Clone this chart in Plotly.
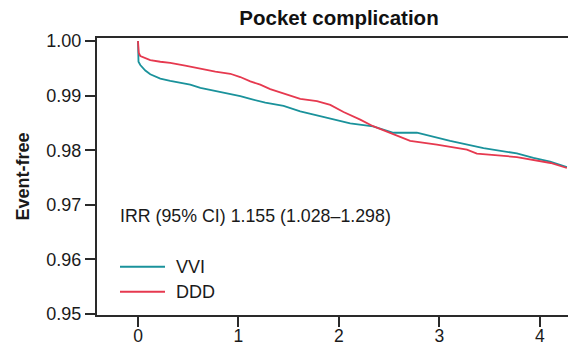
import plotly.graph_objects as go

# Kaplan-Meier style event-free curves (years vs proportion event-free)
vvi_t = [0.0, 0.001, 0.005, 0.023, 0.073, 0.122, 0.222, 0.321, 0.421, 0.520, 0.621, 0.819,
         1.018, 1.118, 1.267, 1.449, 1.615, 1.781, 1.963, 2.112, 2.340, 2.543, 2.776,
         3.107, 3.439, 3.771, 3.936, 4.102, 4.269]
vvi_s = [1.000, 0.9970, 0.9962, 0.9956, 0.9946, 0.9939, 0.9931, 0.9927, 0.9924, 0.9920, 0.9914, 0.9907,
         0.9899, 0.9894, 0.9887, 0.9881, 0.9871, 0.9864, 0.9855, 0.9849, 0.98437, 0.9832, 0.9832,
         0.9817, 0.9804, 0.9794, 0.9786, 0.9779, 0.9769]

ddd_t = [0.0, 0.002, 0.008, 0.023, 0.073, 0.122, 0.222, 0.321, 0.470, 0.621, 0.770, 0.919,
         1.018, 1.118, 1.217, 1.316, 1.449, 1.615, 1.781, 1.914, 2.046, 2.112, 2.212, 2.340,
         2.450, 2.543, 2.709, 2.975, 3.274, 3.373, 3.771, 4.107, 4.269]
ddd_s = [1.000, 0.9985, 0.9978, 0.99725, 0.9968, 0.9965, 0.9962, 0.9960, 0.9955, 0.9949, 0.9944, 0.9940,
         0.9934, 0.9926, 0.9920, 0.9912, 0.99035, 0.9894, 0.9890, 0.9883, 0.9870, 0.9865, 0.9856, 0.9844,
         0.9836, 0.9830, 0.9817, 0.98101, 0.98009, 0.97936, 0.97875, 0.97766, 0.97674]

series_names = ["VVI", "DDD"]
x_ticks = [0, 1, 2, 3, 4]
y_ticks = [0.95, 0.96, 0.97, 0.98, 0.99, 1.00]
y_tick_labels = ["0.95", "0.96", "0.97", "0.98", "0.99", "1.00"]

title_text = "Pocket complication"
y_title = "Event-free"
irr_text = "IRR (95% CI) 1.155 (1.028\u20131.298)"

TEAL = "#1a929b"
RED = "#e6394f"
AXIS = "#2a2a2a"
FONT = "Liberation Sans, Arial, Helvetica, sans-serif"
colors = [TEAL, RED]

fig = go.Figure()
for name, t, s, c in zip(series_names, [vvi_t, ddd_t], [vvi_s, ddd_s], colors):
    fig.add_trace(go.Scatter(x=t, y=s, mode="lines", name=name,
                             line=dict(color=c, width=1.8)))

W, H = 568, 348
L, R, T, B = 97, 0, 38, 33
PW, PH = W - L - R, H - T - B


def px(xp):
    return (xp - L) / PW


def py(yp):
    return (T + PH - yp) / PH


fig.update_layout(
    width=W, height=H,
    margin=dict(l=L, r=R, t=T, b=B, pad=0, autoexpand=False),
    paper_bgcolor="white", plot_bgcolor="white",
    font=dict(family=FONT, size=18, color="#1a1a1a"),
    title=dict(text="<b>" + title_text + "</b>", x=339 / W, xanchor="center",
               y=1 - 18 / H, yanchor="middle", font=dict(size=20.5, color="#111")),
    showlegend=False,
    xaxis=dict(range=[-0.408, 4.28], tickvals=x_ticks, ticks="outside", ticklen=10,
               tickwidth=2, tickcolor=AXIS, showline=True, linecolor=AXIS, linewidth=2,
               mirror=True, showgrid=False, zeroline=False, tickfont=dict(size=17.5),
               automargin=False, ticklabelstandoff=-6),
    yaxis=dict(range=[0.94982, 1.00055], tickvals=y_ticks, ticktext=y_tick_labels,
               ticks="outside", ticklen=10, tickwidth=2, tickcolor=AXIS, showline=True,
               linecolor=AXIS, linewidth=2, showgrid=False, zeroline=False,
               tickfont=dict(size=18), automargin=False,
               title=dict(text="<b>" + y_title + "</b>", font=dict(size=18), standoff=12)),
)

fig.add_annotation(text=irr_text, xref="paper", yref="paper",
                   x=px(118), y=py(216),
                   xanchor="left", yanchor="middle", showarrow=False,
                   font=dict(size=17.8, color="#1a1a1a"))

# legend drawn manually
leg_y = [266.7, 291.7]
for name, c, yy in zip(series_names, colors, leg_y):
    fig.add_shape(type="line", xref="paper", yref="paper",
                  x0=px(120), x1=px(165), y0=py(yy), y1=py(yy),
                  line=dict(color=c, width=2))
    fig.add_annotation(text=name, xref="paper", yref="paper",
                       x=px(174), y=py(yy), xanchor="left", yanchor="middle",
                       showarrow=False, font=dict(size=18, color="#1a1a1a"))

fig.write_html("out.html")
